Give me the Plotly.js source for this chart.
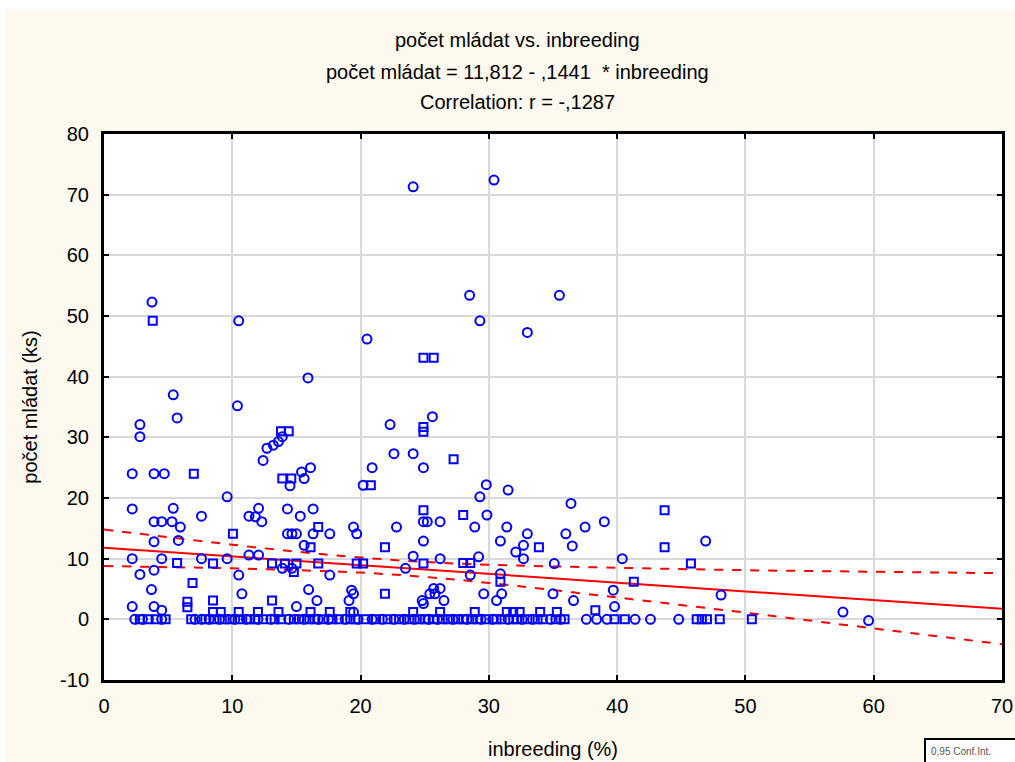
<!DOCTYPE html>
<html>
<head>
<meta charset="utf-8">
<script src="https://cdn.plot.ly/plotly-3.0.1.min.js"></script>
<style>
html,body{margin:0;padding:0;background:#ffffff;}
#chart{position:absolute;left:5px;top:10px;width:1010px;height:752px;}
</style>
</head>
<body>
<div id="chart"></div>
<script>
// Circle markers
const circleX = [3.74,10.5,20.5,15.9,24.1,30.4,28.5,35.5,29.3,33.0,5.4,10.4,2.8,2.8,5.7,22.3,22.6,12.4,12.7,13.2,13.6,13.9,2.2,3.9,4.7,9.6,14.5,15.4,16.1,15.6,20.9,20.2,2.2,3.9,4.5,5.3,5.4,5.95,7.6,12.05,11.3,11.8,12.3,14.3,15.3,16.3,14.3,14.65,15.0,16.3,17.6,19.45,19.7,22.8,2.2,3.9,5.8,4.5,3.9,2.8,7.6,9.6,10.5,11.3,12.05,14.65,13.9,15.6,17.6,3.7,2.2,3.9,4.5,10.75,15.0,15.95,16.6,19.3,19.45,19.1,19.45,25.6,24.1,24.9,29.8,29.3,31.5,36.4,29.85,24.9,25.2,26.2,28.9,31.4,33.0,36.0,37.5,39.0,24.9,30.9,32.7,32.1,32.7,36.5,24.1,26.2,29.2,23.5,28.55,30.9,35.1,40.4,39.7,39.8,25.7,26.2,25.8,25.4,24.8,24.9,26.5,29.6,30.6,31.0,35.0,36.6,46.9,48.1,57.6,59.6,
  2.4,3.0,4.5,7.1,7.6,8.2,9.0,10.2,11.1,12.0,13.0,14.4,15.6,16.7,17.5,18.8,19.8,20.9,21.7,22.6,23.4,24.2,25.3,26.0,27.2,28.3,29.4,30.3,31.5,32.6,33.4,34.8,35.6,37.6,38.4,39.2,41.4,42.6,44.8];
const circleY = [52.3,49.2,46.2,39.8,71.3,72.4,53.4,53.4,49.2,47.3,37.0,35.2,32.1,30.1,33.2,32.1,27.3,26.2,28.2,28.7,29.3,30.1,24.0,24.0,24.0,20.2,22.0,24.3,25.0,23.2,25.0,22.1,18.2,16.1,16.1,16.1,18.3,15.2,17.0,18.3,17.0,16.9,16.1,18.2,17.0,18.2,14.1,14.1,14.1,14.1,14.1,15.2,14.1,15.2,10.0,12.8,13.0,10.0,8.1,7.4,10.0,10.0,7.3,10.6,10.6,8.4,8.4,12.2,7.3,4.9,2.1,2.1,1.5,4.2,2.1,4.9,3.1,4.8,4.2,3.1,1.2,33.4,27.3,25.0,22.2,20.2,21.3,19.1,17.2,16.1,16.1,16.1,15.2,15.2,14.1,14.1,15.2,16.1,12.9,12.9,12.2,11.1,10.0,12.1,10.4,10.0,10.3,8.4,7.3,7.5,9.2,10.0,4.8,2.1,5.1,5.1,4.2,4.2,3.1,2.6,3.1,4.2,3.1,4.2,4.2,3.1,12.9,4.0,1.2,-0.2,
  0,0,0,0,0,0,0,0,0,0,0,0,0,0,0,0,0,0,0,0,0,0,0,0,0,0,0,0,0,0,0,0,0,0,0,0,0,0,0];
// Square markers
const squareX = [3.8,24.9,25.7,13.8,14.4,7.0,13.9,14.6,20.8,10.05,16.7,5.7,8.5,13.1,14.1,15.0,14.8,16.1,16.7,19.7,20.2,21.9,6.9,6.5,6.5,8.5,13.1,21.9,24.9,24.9,27.25,43.7,24.9,28.0,33.9,43.7,24.9,28.0,28.55,30.9,41.3,45.75,38.3,
  8.5,9.1,10.5,12.0,13.6,16.1,17.6,19.2,24.1,26.2,28.9,31.4,31.9,32.4,34.0,35.3,
  2.8,3.4,4.1,4.8,6.8,7.9,8.6,9.4,9.8,10.6,11.4,11.8,12.4,13.3,13.8,14.8,15.2,16.0,16.4,17.1,17.8,18.3,19.2,19.6,20.4,21.2,22.1,23.0,23.8,24.6,25.0,25.7,26.4,26.8,27.6,28.0,28.7,29.1,29.8,30.6,31.0,31.9,32.2,33.0,33.8,34.2,35.2,35.9,39.8,40.6,46.2,46.6,47.0,48.0,50.5];
const squareY = [49.2,43.1,43.1,31.0,31.0,24.0,23.2,23.2,22.1,14.1,15.2,9.3,9.2,9.2,9.2,9.2,7.8,11.9,9.2,9.2,9.2,11.9,6.0,2.9,2.0,3.1,3.1,4.2,31.7,30.9,26.4,18.0,18.0,17.2,11.9,11.9,9.2,9.3,9.3,6.2,6.2,9.2,1.5,
  1.2,1.2,1.2,1.2,1.2,1.2,1.2,1.2,1.2,1.2,1.2,1.2,1.2,1.2,1.2,1.2,
  0,0,0,0,0,0,0,0,0,0,0,0,0,0,0,0,0,0,0,0,0,0,0,0,0,0,0,0,0,0,0,0,0,0,0,0,0,0,0,0,0,0,0,0,0,0,0,0,0,0,0,0,0,0,0];
// Regression: počet mládat = 11,812 - ,1441 * inbreeding
const regIntercept = 11.812;
const regSlope = -0.1441;
const regX = [0, 70];
// 0,95 confidence band
const bandX = [0, 5, 10, 15, 20, 25, 30, 40, 50, 60, 70];
const upperBand = [14.8, 13.55, 12.3, 11.15, 10.2, 9.45, 9.0, 8.5, 8.1, 7.85, 7.6];
const lowerBand = [8.8, 8.6, 8.4, 8.1, 7.7, 7.0, 6.0, 3.6, 1.1, -1.5, -4.1];

const titleLines = ['počet mládat vs. inbreeding', 'počet mládat = 11,812 - ,1441  * inbreeding', 'Correlation: r = -,1287'];
const xTitle = 'inbreeding (%)';
const yTitle = 'počet mládat (ks)';
const legendText = '0,95 Conf.Int.';

const FONT = '"Liberation Sans", Arial, sans-serif';
const blue = '#0000ff', red = '#ff0000';

const traces = [
  {x: bandX, y: upperBand, mode: 'lines', line: {color: red, width: 2, dash: 'dash', shape: 'spline'}, hoverinfo: 'skip'},
  {x: bandX, y: lowerBand, mode: 'lines', line: {color: red, width: 2, dash: 'dash', shape: 'spline'}, hoverinfo: 'skip'},
  {x: regX, y: regX.map(v => regIntercept + regSlope * v), mode: 'lines', line: {color: red, width: 2}},
  {x: circleX, y: circleY, mode: 'markers', marker: {symbol: 'circle-open', size: 9, color: blue, line: {color: blue, width: 2}}},
  {x: squareX, y: squareY, mode: 'markers', marker: {symbol: 'square-open', size: 8, color: blue, line: {color: blue, width: 2}}}
];

// plot area in page pixels: left 104, right 1002, top 134, bottom 680
const px = v => (v - 104) / 898;
const py = v => (680 - v) / 546;
const titleYpx = [40, 72, 102];
const annotations = titleLines.map((t, i) => ({
  text: t, xref: 'paper', yref: 'paper', x: px(517), xanchor: 'center',
  y: py(titleYpx[i]), yanchor: 'middle', showarrow: false,
  font: {family: FONT, size: 20, color: '#000'}
}));
annotations.push({
  text: legendText, xref: 'paper', yref: 'paper', showarrow: false,
  x: px(929), xanchor: 'left', y: py(751), yanchor: 'middle',
  font: {family: FONT, size: 10, color: '#555'}
});
const shapes = [{
  type: 'rect', xref: 'paper', yref: 'paper', x0: px(925), x1: px(1016), y0: py(739), y1: py(764),
  line: {color: '#000', width: 2}, fillcolor: '#ffffff', layer: 'above'
}];

const layout = {
  width: 1010, height: 752,
  paper_bgcolor: '#fef9ee', plot_bgcolor: '#ffffff',
  margin: {l: 99, r: 13, t: 124, b: 82},
  showlegend: false,
  font: {family: FONT, size: 20, color: '#000'},
  xaxis: {
    range: [0, 70], tickvals: [0,10,20,30,40,50,60,70], ticktext: ['0','10','20','30','40','50','60','70'],
    showgrid: true, gridcolor: '#d9d9d9', gridwidth: 2, zeroline: false,
    showline: true, linecolor: '#000', linewidth: 3, mirror: 'ticks',
    ticks: 'inside', ticklen: 5, tickwidth: 2, tickcolor: '#000', ticklabelstandoff: 6,
    tickfont: {family: FONT, size: 20, color: '#000'},
    title: {text: xTitle, font: {family: FONT, size: 20, color: '#000'}, standoff: 26}
  },
  yaxis: {
    range: [-10, 80], tickvals: [-10,0,10,20,30,40,50,60,70,80], ticktext: ['-10','0','10','20','30','40','50','60','70','80'],
    showgrid: true, gridcolor: '#d9d9d9', gridwidth: 2, zeroline: false,
    showline: true, linecolor: '#000', linewidth: 3, mirror: 'ticks',
    ticks: 'inside', ticklen: 5, tickwidth: 2, tickcolor: '#000', ticklabelstandoff: 8,
    tickfont: {family: FONT, size: 20, color: '#000'},
    title: {text: yTitle, font: {family: FONT, size: 20, color: '#000'}, standoff: 18}
  },
  shapes: shapes,
  annotations: annotations
};

Plotly.newPlot('chart', traces, layout, {displayModeBar: false, staticPlot: true});
</script>
</body>
</html>
